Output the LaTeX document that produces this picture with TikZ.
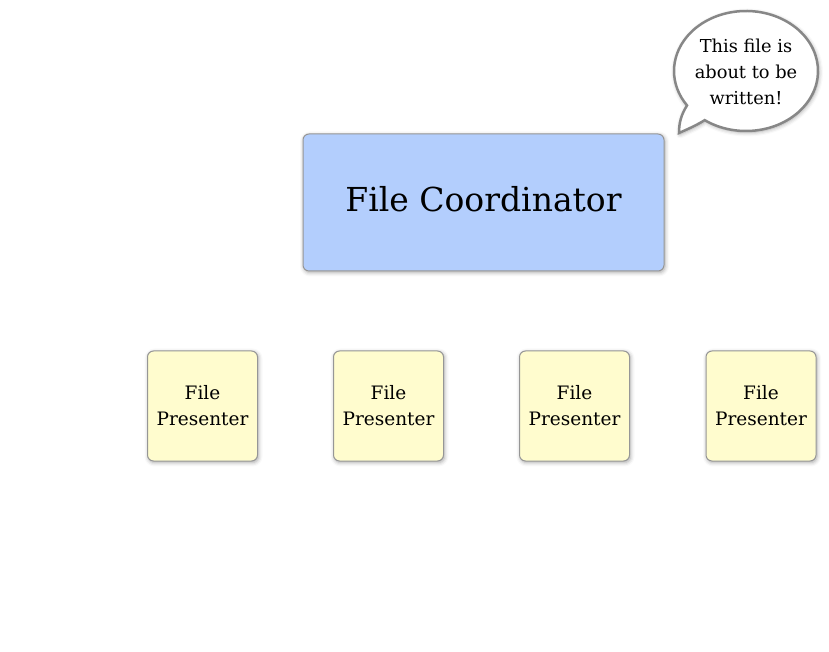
\documentclass[tikz,border=0pt]{standalone}
\usepackage{fontspec}
\setmainfont{DejaVu Serif}
\usetikzlibrary{shadows.blur}
\definecolor{coordfill}{RGB}{179,206,253}
\definecolor{presfill}{RGB}{255,252,206}
\definecolor{boxborder}{RGB}{150,150,150}
\definecolor{bubbleborder}{RGB}{135,135,135}
\tikzset{
  softshadow/.style={blur shadow={shadow xshift=1pt,shadow yshift=-1.5pt,shadow blur radius=4pt,shadow opacity=35}},
  coordbox/.style={draw=boxborder,line width=1pt,fill=coordfill,rounded corners=6pt,minimum width=361pt,minimum height=137pt,inner sep=0pt,softshadow},
  coordtext/.style={font=\fontsize{33}{38}\selectfont,inner sep=0pt},
  presbox/.style={draw=boxborder,line width=1pt,fill=presfill,rounded corners=6pt,minimum width=110pt,minimum height=110pt,inner sep=0pt,align=center,font=\fontsize{18.5}{26}\selectfont,softshadow},
  bubbletext/.style={align=center,font=\fontsize{17.8}{26}\selectfont,inner sep=0pt},
}
\begin{document}
\begin{tikzpicture}[x=1pt,y=1pt]
\useasboundingbox (0,0) rectangle (829,651);
% speech bubble
\coordinate (bc) at (746,580);
\coordinate (tip) at (679,518);
\draw[bubbleborder,line width=2.5pt,fill=white,softshadow]
  ([shift={(bc)}]235:72 and 60) arc[start angle=235,end angle=575,x radius=72,y radius=60]
  .. controls (681,536) and (679,528) .. (tip)
  .. controls (688,522) and (697,526) .. cycle;
\node[bubbletext] (bubble) at (746,579) {This file is\\about to be\\written!};
\node[coordbox] (coord) at (483.5,448.5) {};
\node[coordtext] (coordlabel) at (483.5,452) {File Coordinator};
\node[presbox] (p1) at (202.5,245) {File\\Presenter};
\node[presbox] (p2) at (388.5,245) {File\\Presenter};
\node[presbox] (p3) at (574.5,245) {File\\Presenter};
\node[presbox] (p4) at (761,245) {File\\Presenter};
\end{tikzpicture}
\end{document}
